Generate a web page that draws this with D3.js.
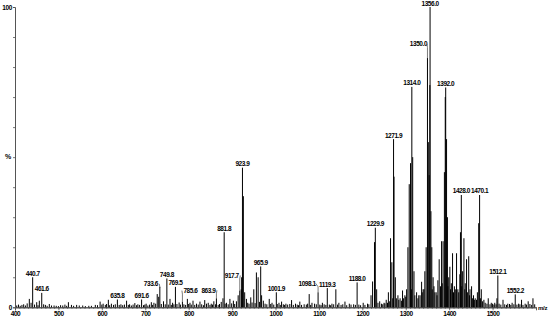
<!DOCTYPE html>
<html><head><meta charset="utf-8">
<script src="https://cdn.jsdelivr.net/npm/d3@7"></script>
<style>
html,body{margin:0;padding:0;background:#fff;}
svg text{font-family:"Liberation Sans",Arial,sans-serif;font-weight:bold;fill:#000;}
</style></head>
<body><svg id="c" width="550" height="321"></svg>
<script>
// Labelled peaks (m/z, relative intensity %)
const labelMz  = [440.7, 461.6, 635.8, 691.6, 733.6, 749.8, 769.5, 785.6, 863.9, 881.8, 917.7, 923.9, 965.9, 1001.9, 1098.1, 1119.3, 1188.0, 1229.9, 1271.9, 1314.0, 1350.0, 1356.0, 1392.0, 1428.0, 1470.1, 1512.1, 1552.2];
const labelInt = [10.0, 4.8, 2.6, 2.6, 6.8, 9.6, 6.8, 1.9, 3.0, 25.0, 5.6, 46.5, 13.6, 5.0, 5.0, 6.4, 8.3, 26.5, 56.0, 73.4, 83.0, 100, 73.2, 37.4, 37.4, 10.6, 4.3];

// Other distinct peaks
const peakMz  = [433, 437, 450, 456, 466, 479, 490, 505, 523, 530, 542, 556, 570, 585, 596, 603, 615, 622, 644, 657, 664, 676, 683, 702, 714, 720, 727.6, 731, 742, 757, 763, 778, 797, 803, 810, 818, 826, 837, 845, 852, 858, 875, 879, 887, 895, 903, 910, 914, 921, 922, 926, 929, 933, 943, 950, 956, 960, 968, 972, 985.6, 992, 1008, 1014, 1024, 1037, 1046, 1056, 1066, 1077.6, 1084, 1090, 1108, 1130, 1139, 1146, 1160, 1170, 1180, 1202, 1212, 1220, 1223.6, 1228, 1233, 1240, 1250, 1255, 1260, 1265, 1268, 1273, 1276, 1282, 1287, 1292.6, 1298, 1302, 1305, 1308, 1311, 1316, 1319, 1325, 1330, 1336.5, 1340, 1344, 1347, 1352, 1354, 1355.5, 1358, 1360, 1363, 1365, 1370, 1374, 1377, 1382.5, 1386, 1389, 1391, 1394, 1396, 1399, 1401.6, 1405, 1407.8, 1412, 1417, 1420, 1424.6, 1426, 1431, 1434, 1437, 1440, 1445, 1448, 1451.6, 1456, 1460, 1465, 1468, 1474, 1480, 1490, 1497, 1505, 1510, 1524, 1535, 1545, 1560, 1566.7, 1575, 1582, 1593];
const peakInt = [2.8, 1.5, 1.7, 2.2, 1.0, 1.1, 0.6, 0.7, 1.7, 0.8, 0.8, 0.6, 0.5, 0.8, 1.9, 1.2, 2.5, 1.2, 1.0, 2.2, 1.0, 1.4, 1.0, 1.2, 1.7, 1.5, 4.4, 3.5, 2.0, 2.8, 1.5, 1.6, 2.8, 1.5, 2.2, 1.2, 1.9, 2.4, 1.5, 1.2, 2.0, 1.8, 3.0, 1.5, 2.8, 2.2, 2.0, 4.0, 6.0, 10, 37, 5, 2.8, 3.3, 6.0, 11.6, 10, 4, 2.2, 2.8, 1.5, 1.5, 1.9, 1.2, 2.4, 1.2, 1.9, 1.0, 4.4, 1.5, 1.2, 1.5, 1.2, 6.0, 1.5, 1.9, 1.2, 1.0, 1.5, 1.2, 4.0, 8.6, 21.7, 6, 2.0, 1.5, 2.5, 5, 23, 15, 43.5, 10, 4, 3, 5.6, 4, 6, 20, 41, 48, 50, 12, 5, 4, 8.5, 6, 12, 20, 55, 44, 74, 32, 20, 10, 7, 5, 9, 16, 22, 22, 45, 70, 56, 30, 10, 13.5, 8, 18, 7, 18, 6, 11, 25, 12, 23, 8, 16, 17, 6, 7, 4, 3, 5, 28, 6, 2.5, 3, 1.5, 1.5, 3, 2.5, 1.2, 1.5, 1.2, 2.5, 1.2, 2, 3];

// Baseline noise peaks
const noiseMz  = [404, 408, 412, 416, 420, 424, 428, 445, 453, 470, 474, 484, 495, 500, 510, 515, 519, 535, 548, 562, 576, 590, 600, 608, 611, 618, 627, 631, 640, 648, 652, 661, 668, 672, 680, 687, 696, 699, 706, 710, 717, 724, 737, 746, 753, 760, 766, 773, 781, 789, 793, 800, 806, 814, 822, 830, 834, 841, 849, 855, 862, 868, 871, 884, 891, 899, 906, 936, 939, 946, 953, 963, 976, 980, 989, 996, 1004, 1011, 1018, 1021, 1028, 1033, 1041, 1050, 1053, 1060, 1071, 1074, 1081, 1094, 1102, 1105, 1112, 1116, 1124, 1127, 1134, 1143, 1151, 1155, 1164, 1174, 1184, 1192, 1196, 1206, 1215, 1236, 1244, 1247, 1252, 1258, 1263, 1270, 1279, 1284, 1290, 1295, 1300, 1313, 1321, 1328, 1333, 1338, 1342, 1361, 1367, 1372, 1380, 1384, 1397, 1403, 1410, 1415, 1422, 1429, 1436, 1442, 1447, 1454, 1458, 1463, 1472, 1477, 1483, 1487, 1494, 1500, 1503, 1508, 1515, 1519, 1528, 1532, 1539, 1542, 1549, 1556, 1563, 1570, 1578, 1586, 1590, 1597];
const noiseInt = [0.6, 0.9, 0.5, 0.8, 1.0, 0.6, 1.3, 0.9, 0.7, 0.8, 0.5, 0.6, 0.5, 0.4, 0.6, 0.9, 0.5, 0.5, 0.6, 0.4, 0.5, 0.7, 0.9, 0.8, 1.1, 0.7, 0.8, 1.0, 0.8, 0.7, 0.9, 0.8, 0.6, 0.9, 0.7, 0.8, 0.7, 0.9, 0.6, 0.9, 0.8, 1.2, 1.1, 1.0, 0.9, 0.8, 1.0, 1.1, 0.9, 1.0, 0.8, 1.1, 0.9, 0.8, 0.9, 1.0, 0.7, 1.2, 0.8, 0.9, 1.0, 0.8, 1.1, 1.2, 1.0, 1.3, 1.1, 1.5, 1.2, 1.6, 1.4, 1.8, 1.2, 1.0, 1.1, 0.9, 1.1, 0.8, 1.0, 0.8, 0.9, 1.1, 0.8, 0.9, 0.7, 0.8, 0.9, 1.2, 0.8, 1.0, 0.9, 0.7, 1.0, 0.8, 0.9, 0.7, 1.0, 0.9, 0.8, 1.0, 0.7, 0.9, 0.8, 0.9, 0.7, 0.8, 1.0, 1.5, 1.2, 1.0, 1.3, 1.5, 2.0, 3, 3, 2.5, 2.2, 3, 3.5, 6, 4, 3, 4, 5, 6, 6, 5, 4, 7, 8, 7, 6, 5, 6, 5, 7, 6, 5, 4, 3, 2.5, 2.5, 3, 2, 1.5, 1.2, 1.0, 1.2, 0.9, 1.0, 1.2, 0.9, 1.0, 0.8, 1.1, 0.8, 1.0, 0.9, 1.0, 0.8, 0.9, 1.1, 0.8, 1.0];

// Axis tick labels
const xTickLabels = [400, 500, 600, 700, 800, 900, 1000, 1100, 1200, 1300, 1400, 1500];
const yTickLabels = [0, 100];

const svg = d3.select("#c");
const x = d3.scaleLinear().domain([400, 1600]).range([15, 536]);
const y = d3.scaleLinear().domain([0, 100]).range([307.3, 7]);

// label nudges for leader-line labels: [dx, dy from peak top]
const nudge = {"733.6":[-9,-3], "785.6":[8,-11], "863.9":[-8,-8], "917.7":[-8,-15], "1098.1":[-11,-9], "1350.0":[-9,-14]};

// axes
const xMinor = svg.append("g").attr("transform", `translate(0,${y(0)})`)
  .call(d3.axisBottom(x).tickValues(d3.range(400, 1601, 10)).tickSize(1.5).tickFormat(""));
const xMajor = svg.append("g").attr("transform", `translate(0,${y(0)})`)
  .call(d3.axisBottom(x).tickValues(xTickLabels).tickSize(3).tickPadding(1).tickFormat(d3.format("d")));
[xMinor, xMajor].forEach(g => {
  g.select(".domain").attr("stroke", "#555").attr("stroke-width", 1);
  g.selectAll(".tick line").attr("stroke", "#555").attr("stroke-width", 0.8);
});
xMajor.selectAll(".tick text").attr("font-size", 6.5).attr("letter-spacing", -0.4)
  .attr("font-family", "Liberation Sans, Arial, sans-serif").attr("font-weight", "bold").attr("fill", "#000");

const yAx = svg.append("g").attr("transform", `translate(${x(400)},0)`)
  .call(d3.axisLeft(y).tickValues(d3.range(0, 101, 10)).tickSize(2).tickPadding(1)
        .tickFormat(d => yTickLabels.includes(d) ? d : ""));
yAx.select(".domain").attr("stroke", "#555").attr("stroke-width", 1);
yAx.selectAll(".tick line").attr("stroke", "#555").attr("stroke-width", 0.8);
yAx.selectAll(".tick text").attr("font-size", 6.5).attr("letter-spacing", -0.4)
  .attr("font-family", "Liberation Sans, Arial, sans-serif").attr("font-weight", "bold").attr("fill", "#000");

svg.append("text").attr("x", 8).attr("y", 159).attr("font-size", 7).attr("text-anchor", "middle").text("%");
svg.append("text").attr("x", 538).attr("y", 310).attr("font-size", 6).attr("letter-spacing", -0.3).text("m/z");

// peaks
const all = [];
noiseMz.forEach((m, i) => all.push([m, noiseInt[i]]));
peakMz.forEach((m, i) => all.push([m, peakInt[i]]));
labelMz.forEach((m, i) => all.push([m, labelInt[i]]));
svg.append("g").selectAll("line").data(all).join("line")
  .attr("x1", d => x(d[0])).attr("x2", d => x(d[0]))
  .attr("y1", y(0)).attr("y2", d => y(d[1]))
  .attr("stroke", "#000").attr("stroke-width", 1);

// labels
const lg = svg.append("g");
labelMz.forEach((m, i) => {
  const txt = m.toFixed(1);
  const px = x(m), py = y(labelInt[i]);
  const n = nudge[txt];
  let lx = px, ly = Math.max(py - 3.8, 3.6);
  if (n) { lx = px + n[0]; ly = py + n[1]; }
  lg.append("text").attr("x", lx).attr("y", ly + 2.3)
    .attr("text-anchor", "middle").attr("font-size", 6.5).attr("letter-spacing", -0.45).text(txt);
  if (n) {
    const half = 8.5;
    const sx = n[0] < 0 ? lx + half : lx - half;
    lg.append("path").attr("d", `M${sx},${ly} L${px},${ly + 3.5} L${px},${py}`)
      .attr("fill", "none").attr("stroke", "#444").attr("stroke-width", 0.7);
  }
});
</script></body></html>
